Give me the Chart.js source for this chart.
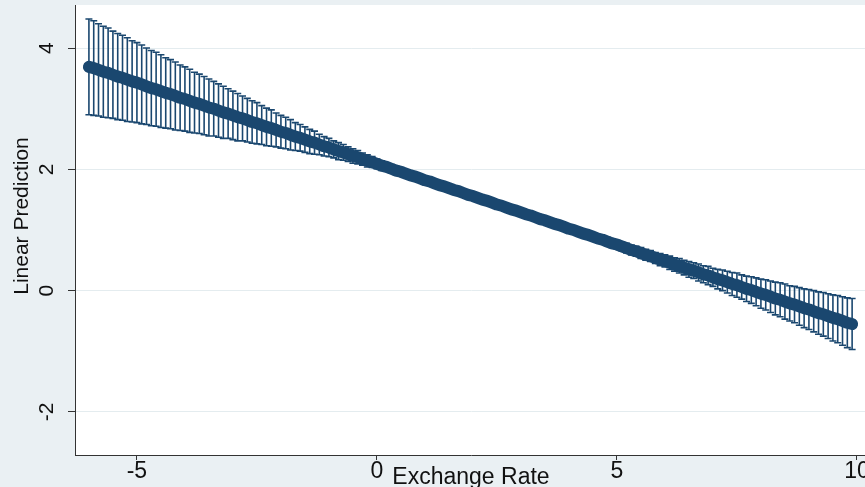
<!DOCTYPE html>
<html>
<head>
<meta charset="utf-8">
<script src="https://cdn.jsdelivr.net/npm/chart.js@4.4.1/dist/chart.umd.min.js"></script>
<style>
  html, body { margin: 0; padding: 0; background: #eaf0f3; overflow: hidden; }
  #wrap { width: 870px; height: 487px; }
</style>
</head>
<body>
<div id="wrap"><canvas id="margins"></canvas></div>
<script>
// values (Exchange Rate vs linear prediction, with 95% CI caps)
const exchRate = [-6.0,-5.9,-5.8,-5.7,-5.6,-5.5,-5.4,-5.3,-5.2,-5.1,-5.0,-4.9,-4.8,-4.7,-4.6,-4.5,-4.4,-4.3,-4.2,-4.1,
  -4.0,-3.9,-3.8,-3.7,-3.6,-3.5,-3.4,-3.3,-3.2,-3.1,-3.0,-2.9,-2.8,-2.7,-2.6,-2.5,-2.4,-2.3,-2.2,-2.1,
  -2.0,-1.9,-1.8,-1.7,-1.6,-1.5,-1.4,-1.3,-1.2,-1.1,-1.0,-0.9,-0.8,-0.7,-0.6,-0.5,-0.4,-0.3,-0.2,-0.1,
  0.0,0.1,0.2,0.3,0.4,0.5,0.6,0.7,0.8,0.9,1.0,1.1,1.2,1.3,1.4,1.5,1.6,1.7,1.8,1.9,
  2.0,2.1,2.2,2.3,2.4,2.5,2.6,2.7,2.8,2.9,3.0,3.1,3.2,3.3,3.4,3.5,3.6,3.7,3.8,3.9,
  4.0,4.1,4.2,4.3,4.4,4.5,4.6,4.7,4.8,4.9,5.0,5.1,5.2,5.3,5.4,5.5,5.6,5.7,5.8,5.9,
  6.0,6.1,6.2,6.3,6.4,6.5,6.6,6.7,6.8,6.9,7.0,7.1,7.2,7.3,7.4,7.5,7.6,7.7,7.8,7.9,
  8.0,8.1,8.2,8.3,8.4,8.5,8.6,8.7,8.8,8.9,9.0,9.1,9.2,9.3,9.4,9.5,9.6,9.7,9.8,9.9];

const prediction = [3.69,3.67,3.64,3.61,3.59,3.56,3.53,3.51,3.48,3.45,3.43,3.40,3.37,3.34,3.32,3.29,3.26,3.24,3.21,3.18,
  3.16,3.13,3.10,3.08,3.05,3.02,3.00,2.97,2.94,2.92,2.89,2.86,2.84,2.81,2.78,2.76,2.73,2.70,2.68,2.65,
  2.62,2.60,2.57,2.54,2.52,2.49,2.46,2.44,2.41,2.38,2.36,2.33,2.30,2.28,2.25,2.22,2.20,2.17,2.14,2.12,
  2.09,2.06,2.04,2.01,1.98,1.96,1.93,1.90,1.88,1.85,1.82,1.80,1.77,1.74,1.72,1.69,1.66,1.64,1.61,1.58,
  1.56,1.53,1.50,1.48,1.45,1.42,1.40,1.37,1.34,1.32,1.29,1.26,1.24,1.21,1.18,1.16,1.13,1.10,1.08,1.05,
  1.02,1.00,0.97,0.94,0.92,0.89,0.86,0.84,0.81,0.78,0.76,0.73,0.70,0.67,0.65,0.62,0.59,0.57,0.54,0.51,
  0.49,0.46,0.43,0.41,0.38,0.35,0.33,0.30,0.27,0.25,0.22,0.19,0.17,0.14,0.11,0.09,0.06,0.03,0.01,-0.02,
  -0.05,-0.07,-0.10,-0.13,-0.15,-0.18,-0.21,-0.23,-0.26,-0.29,-0.31,-0.34,-0.37,-0.39,-0.42,-0.45,-0.47,-0.50,-0.53,-0.55];

const ciUpper = [4.48,4.45,4.40,4.36,4.33,4.28,4.24,4.21,4.17,4.12,4.09,4.05,4.00,3.96,3.93,3.89,3.84,3.81,3.77,3.72,
  3.69,3.65,3.60,3.57,3.53,3.49,3.45,3.41,3.37,3.33,3.29,3.25,3.21,3.17,3.13,3.10,3.05,3.01,2.98,2.93,
  2.89,2.86,2.82,2.77,2.74,2.70,2.66,2.63,2.58,2.54,2.51,2.47,2.44,2.41,2.37,2.34,2.31,2.27,2.24,2.21,
  2.17,2.14,2.11,2.08,2.05,2.03,1.99,1.96,1.94,1.90,1.87,1.85,1.82,1.79,1.77,1.74,1.70,1.68,1.65,1.62,
  1.60,1.57,1.54,1.52,1.49,1.46,1.44,1.41,1.38,1.36,1.33,1.30,1.28,1.25,1.22,1.21,1.18,1.15,1.13,1.10,
  1.07,1.05,1.02,1.00,0.98,0.95,0.92,0.90,0.88,0.85,0.83,0.80,0.78,0.75,0.73,0.71,0.68,0.66,0.63,0.61,
  0.59,0.57,0.54,0.53,0.50,0.48,0.46,0.44,0.41,0.40,0.37,0.35,0.34,0.32,0.30,0.29,0.26,0.24,0.23,0.21,
  0.19,0.18,0.16,0.14,0.13,0.11,0.08,0.07,0.05,0.03,0.02,0.00,-0.02,-0.03,-0.05,-0.07,-0.08,-0.10,-0.12,-0.13];

const ciLower = [2.90,2.89,2.88,2.86,2.85,2.84,2.82,2.81,2.79,2.78,2.77,2.75,2.74,2.72,2.71,2.69,2.68,2.67,2.65,2.64,
  2.63,2.61,2.60,2.59,2.57,2.55,2.55,2.53,2.51,2.51,2.49,2.47,2.47,2.45,2.43,2.42,2.41,2.39,2.38,2.37,
  2.35,2.34,2.32,2.31,2.30,2.28,2.26,2.25,2.24,2.22,2.21,2.19,2.16,2.15,2.13,2.10,2.09,2.07,2.04,2.03,
  2.01,1.98,1.97,1.94,1.91,1.89,1.87,1.84,1.82,1.80,1.77,1.75,1.72,1.69,1.67,1.64,1.62,1.60,1.57,1.54,
  1.52,1.49,1.46,1.44,1.41,1.38,1.36,1.33,1.30,1.28,1.25,1.22,1.20,1.17,1.14,1.11,1.08,1.05,1.03,1.00,
  0.97,0.95,0.92,0.88,0.86,0.83,0.80,0.78,0.74,0.71,0.69,0.66,0.62,0.59,0.57,0.53,0.50,0.48,0.45,0.41,
  0.39,0.35,0.32,0.29,0.26,0.22,0.20,0.16,0.13,0.10,0.07,0.03,0.00,-0.04,-0.08,-0.11,-0.14,-0.18,-0.21,-0.25,
  -0.29,-0.32,-0.36,-0.40,-0.43,-0.47,-0.50,-0.53,-0.57,-0.61,-0.64,-0.68,-0.72,-0.75,-0.79,-0.83,-0.86,-0.90,-0.94,-0.97];

const xTicks = [-5, 0, 5, 10];
const yTicks = [-2, 0, 2, 4];
const xTitle = 'Exchange Rate';
const yTitle = 'Linear Prediction';

const navy = '#1a476f';
const xFont = '23px "Liberation Sans", Arial, sans-serif';
const yFont = '21px "Liberation Sans", Arial, sans-serif';

// white plot region on the light stata background
const plotBg = {
  id: 'plotBg',
  beforeDraw(chart) {
    const { ctx, chartArea: a } = chart;
    ctx.save();
    ctx.fillStyle = '#ffffff';
    ctx.fillRect(a.left, a.top, a.right - a.left, a.bottom - a.top);
    ctx.restore();
  }
};

// rcap style CI: vertical bar plus a small cap at each end
const ciCaps = {
  id: 'ciCaps',
  beforeDatasetsDraw(chart) {
    const { ctx, chartArea: a } = chart;
    const xs = chart.scales.x, ys = chart.scales.y;
    ctx.save();
    ctx.beginPath();
    ctx.rect(a.left, a.top, a.right - a.left, a.bottom - a.top);
    ctx.clip();
    ctx.strokeStyle = navy;
    ctx.lineWidth = 1.6;
    ctx.beginPath();
    exchRate.forEach((v, i) => {
      const px = xs.getPixelForValue(v);
      const top = ys.getPixelForValue(ciUpper[i]);
      const bot = ys.getPixelForValue(ciLower[i]);
      ctx.moveTo(px, top); ctx.lineTo(px, bot);
      ctx.moveTo(px - 3.5, top); ctx.lineTo(px + 3.5, top);
      ctx.moveTo(px - 3.5, bot); ctx.lineTo(px + 3.5, bot);
    });
    ctx.stroke();
    ctx.restore();
  }
};

// tick labels and axis titles, stata style (y labels turned)
const axisText = {
  id: 'axisText',
  afterDraw(chart) {
    const { ctx, chartArea: a } = chart;
    const xs = chart.scales.x, ys = chart.scales.y;
    ctx.save();
    ctx.fillStyle = '#111';
    ctx.textAlign = 'center';
    ctx.font = xFont;
    ctx.textBaseline = 'top';
    xTicks.forEach(v => ctx.fillText(String(v), xs.getPixelForValue(v), a.bottom + 5));
    ctx.textBaseline = 'alphabetic';
    ctx.fillText(xTitle, (a.left + a.right) / 2, 484);

    ctx.font = yFont;
    ctx.textBaseline = 'middle';
    yTicks.forEach(v => {
      ctx.save();
      ctx.translate(47, ys.getPixelForValue(v));
      ctx.rotate(-Math.PI / 2);
      ctx.fillText(String(v), 0, 0);
      ctx.restore();
    });
    ctx.save();
    ctx.translate(22, 216);
    ctx.rotate(-Math.PI / 2);
    ctx.fillText(yTitle, 0, 0);
    ctx.restore();
    ctx.restore();
  }
};

new Chart(document.getElementById('margins'), {
  type: 'line',
  data: {
    datasets: [{
      data: exchRate.map((v, i) => ({ x: v, y: prediction[i] })),
      borderColor: navy,
      backgroundColor: navy,
      borderWidth: 12,
      borderCapStyle: 'round',
      borderJoinStyle: 'round',
      pointRadius: 0,
      tension: 0,
      fill: false
    }]
  },
  options: {
    responsive: true,
    maintainAspectRatio: false,
    animation: false,
    layout: { padding: { left: 0, right: 3, top: 5, bottom: 0 } },
    plugins: { legend: { display: false }, tooltip: { enabled: false } },
    scales: {
      x: {
        type: 'linear',
        min: -6.29,
        max: 10.21,
        afterBuildTicks: s => { s.ticks = xTicks.map(v => ({ value: v })); },
        afterFit: s => { s.height = 32; },
        ticks: { display: false },
        grid: { drawOnChartArea: false, drawTicks: true, tickLength: 5, tickColor: '#333', tickWidth: 1 },
        border: { display: true, color: '#333', width: 1 }
      },
      y: {
        type: 'linear',
        min: -2.71,
        max: 4.71,
        afterBuildTicks: s => { s.ticks = yTicks.map(v => ({ value: v })); },
        afterFit: s => { s.width = 75; },
        ticks: { display: false },
        grid: { color: '#e4ecef', lineWidth: 1, drawTicks: true, tickLength: 7, tickColor: '#333', tickWidth: 1 },
        border: { display: true, color: '#333', width: 1 }
      }
    }
  },
  plugins: [plotBg, ciCaps, axisText]
});
</script>
</body>
</html>
